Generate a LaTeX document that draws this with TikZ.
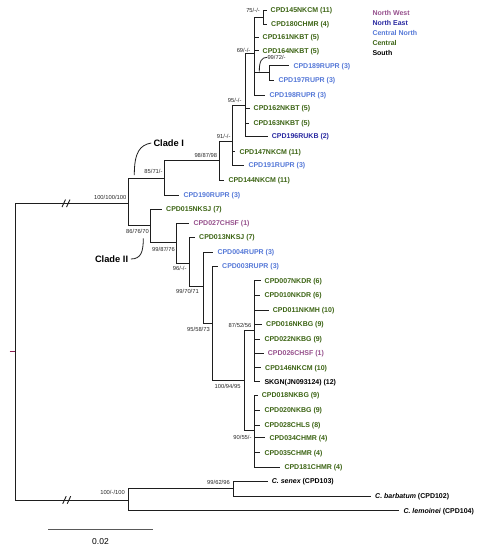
\documentclass[tikz,border=0pt]{standalone}
\usepackage{fontspec}
\setmainfont{Liberation Sans}
\definecolor{cNW}{RGB}{150,80,140}
\definecolor{cNE}{RGB}{40,40,160}
\definecolor{cCN}{RGB}{85,120,215}
\definecolor{cC}{RGB}{60,100,20}
\definecolor{cS}{RGB}{0,0,0}
\definecolor{lineC}{RGB}{30,30,30}
\definecolor{stubC}{RGB}{140,30,80}
\begin{document}
\begin{tikzpicture}[x=1pt,y=-1pt,
  tip/.style={anchor=west, inner xsep=4pt, inner ysep=0pt, font=\fontsize{7}{8}\selectfont\bfseries, text height=5pt, text depth=0pt},
  supval/.style={font=\fontsize{5.8}{6}\selectfont, inner sep=0pt, text height=4.2pt, text depth=0pt, text=black!85},
  branch/.style={line width=1pt, draw=lineC},
  leader/.style={line width=0.8pt, draw=lineC},
  cladelab/.style={font=\fontsize{9.3}{10}\selectfont\bfseries, inner sep=0pt, text height=6.7pt, text depth=0pt},
  legendlab/.style={anchor=west, inner sep=0pt, font=\fontsize{7}{8}\selectfont\bfseries, text height=5pt, text depth=0pt}]
\useasboundingbox (0,0) rectangle (478,550);

% internal nodes
\coordinate (root) at (15.3,351.6);
\coordinate (stub) at (9.5,351.6);
\coordinate (A) at (128.3,203.3);
\coordinate (B) at (128.3,500);
\coordinate (cI) at (164.3,178.3);
\coordinate (n98) at (219,160.7);
\coordinate (n91) at (232.3,141.7);
\coordinate (n95) at (245,105);
\coordinate (n69) at (254,53.3);
\coordinate (n75) at (263.3,17);
\coordinate (n99a) at (269.3,72.5);
\coordinate (cII) at (150.7,225.7);
\coordinate (n9987) at (176,242.7);
\coordinate (n96) at (189,263.3);
\coordinate (n9970) at (203.3,286.7);
\coordinate (n9558) at (212,323.3);
\coordinate (n10094) at (244.3,380.7);
\coordinate (n8752) at (254,330);
\coordinate (n9055) at (254,430);
\coordinate (n9962) at (233.3,488.5);

% tips
\node[tip,text=cC] (t145) at (266.5,10) {CPD145NKCM (11)};
\node[tip,text=cC] (t180) at (267,24) {CPD180CHMR (4)};
\node[tip,text=cC] (t161) at (258.5,37) {CPD161NKBT (5)};
\node[tip,text=cC] (t164) at (258.5,50.7) {CPD164NKBT (5)};
\node[tip,text=cCN] (t189) at (289.3,65.7) {CPD189RUPR (3)};
\node[tip,text=cCN] (t197) at (274.3,80) {CPD197RUPR (3)};
\node[tip,text=cCN] (t198) at (265.3,95) {CPD198RUPR (3)};
\node[tip,text=cC] (t162) at (249.5,108.3) {CPD162NKBT (5)};
\node[tip,text=cC] (t163) at (249.3,123.3) {CPD163NKBT (5)};
\node[tip,text=cNE] (t196) at (267.7,136) {CPD196RUKB (2)};
\node[tip,text=cC] (t147) at (235.3,151.7) {CPD147NKCM (11)};
\node[tip,text=cCN] (t191) at (244.3,165) {CPD191RUPR (3)};
\node[tip,text=cC] (t144) at (224.3,180) {CPD144NKCM (11)};
\node[tip,text=cCN] (t190) at (179.3,195) {CPD190RUPR (3)};
\node[tip,text=cC] (t015) at (162,209.3) {CPD015NKSJ (7)};
\node[tip,text=cNW] (t027) at (189.3,223) {CPD027CHSF (1)};
\node[tip,text=cC] (t013) at (195,237.3) {CPD013NKSJ (7)};
\node[tip,text=cCN] (t004) at (213.3,252.3) {CPD004RUPR (3)};
\node[tip,text=cCN] (t003) at (218,266) {CPD003RUPR (3)};
\node[tip,text=cC] (t007) at (260.5,280.7) {CPD007NKDR (6)};
\node[tip,text=cC] (t010) at (260.3,295) {CPD010NKDR (6)};
\node[tip,text=cC] (t011) at (268.7,310) {CPD011NKMH (10)};
\node[tip,text=cC] (t016) at (262,324) {CPD016NKBG (9)};
\node[tip,text=cC] (t022) at (260.3,339) {CPD022NKBG (9)};
\node[tip,text=cNW] (t026) at (263.7,353.3) {CPD026CHSF (1)};
\node[tip,text=cC] (t146) at (261,367.7) {CPD146NKCM (10)};
\node[tip,text=cS] (tskgn) at (260.3,381.7) {SKGN(JN093124) (12)};
\node[tip,text=cC] (t018) at (257.7,395) {CPD018NKBG (9)};
\node[tip,text=cC] (t020) at (260.3,410) {CPD020NKBG (9)};
\node[tip,text=cC] (t028) at (260.3,425) {CPD028CHLS (8)};
\node[tip,text=cC] (t034) at (265.3,437.7) {CPD034CHMR (4)};
\node[tip,text=cC] (t035) at (260.3,452.7) {CPD035CHMR (4)};
\node[tip,text=cC] (t181) at (280.3,467.3) {CPD181CHMR (4)};
\node[tip] (tsen) at (267.7,481) {{\itshape C. senex} (CPD103)};
\node[tip] (tbar) at (371,496) {{\itshape C. barbatum} (CPD102)};
\node[tip] (tlem) at (399.3,510.5) {{\itshape C. lemoinei} (CPD104)};

% branches
\draw[line width=1pt, draw=stubC] (stub) -- (root);
\draw[branch] (root) |- (A);
\draw[branch] (root) |- (B);
\draw[branch] (A) |- (cI);
\draw[branch] (A) |- (cII);
\draw[branch] (cI) |- (n98);
\draw[branch] (cI) |- (t190.west);
\draw[branch] (n98) |- (n91);
\draw[branch] (n98) |- (t144.west);
\draw[branch] (n91) |- (n95);
\draw[branch] (n91) |- (t147.west);
\draw[branch] (n91) |- (t191.west);
\draw[branch] (n95) |- (n69);
\draw[branch] (n95) |- (t162.west);
\draw[branch] (n95) |- (t163.west);
\draw[branch] (n95) |- (t196.west);
\draw[branch] (n69) |- (n75);
\draw[branch] (n69) |- (t161.west);
\draw[branch] (n69) |- (t164.west);
\draw[branch] (n69) |- (n99a);
\draw[branch] (n69) |- (t198.west);
\draw[branch] (n75) |- (t145.west);
\draw[branch] (n75) |- (t180.west);
\draw[branch] (n99a) |- (t189.west);
\draw[branch] (n99a) |- (t197.west);
\draw[branch] (cII) |- (t015.west);
\draw[branch] (cII) |- (n9987);
\draw[branch] (n9987) |- (t027.west);
\draw[branch] (n9987) |- (n96);
\draw[branch] (n96) |- (t013.west);
\draw[branch] (n96) |- (n9970);
\draw[branch] (n9970) |- (t004.west);
\draw[branch] (n9970) |- (n9558);
\draw[branch] (n9558) |- (t003.west);
\draw[branch] (n9558) |- (n10094);
\draw[branch] (n10094) |- (n8752);
\draw[branch] (n10094) |- (n9055);
\foreach \t in {t007,t010,t011,t016,t022,t026,t146,tskgn}
  \draw[branch] (n8752) |- (\t.west);
\foreach \t in {t018,t020,t028,t034,t035,t181}
  \draw[branch] (n9055) |- (\t.west);
\draw[branch] (B) |- (n9962);
\draw[branch] (B) |- (tlem.west);
\draw[branch] (n9962) |- (tsen.west);
\draw[branch] (n9962) |- (tbar.west);

% break marks
\coordinate (brk1) at (66,203.3);
\coordinate (brk2) at (66.7,500);
\foreach \b in {brk1,brk2} {
  \draw[line width=0.9pt, draw=lineC] ([shift={(-4,3.8)}]\b) -- ([shift={(-0.5,-3.8)}]\b);
  \draw[line width=0.9pt, draw=lineC] ([shift={(0.5,3.8)}]\b) -- ([shift={(4,-3.8)}]\b);
}

% support values
\node[supval,anchor=east] (s1) at (126.5,197) {100/100/100};
\node[supval,anchor=east] (s2) at (162.7,171.7) {85/71/-};
\node[supval,anchor=east] (s3) at (217.3,155) {98/87/98};
\node[supval,anchor=east] (s4) at (230.7,136) {91/-/-};
\node[supval,anchor=east] (s5) at (241.7,100) {95/-/-};
\node[supval,anchor=east] (s6) at (250.5,50.3) {69/-/-};
\node[supval,anchor=east] (s7) at (260,10.5) {75/-/-};
\node[supval,anchor=west] (s8) at (267.3,57.3) {99/72/-};
\node[supval,anchor=east] (s9) at (149,231.7) {86/76/70};
\node[supval,anchor=east] (s10) at (175,249) {99/87/76};
\node[supval,anchor=east] (s11) at (186.7,268.3) {96/-/-};
\node[supval,anchor=east] (s12) at (199,291.7) {99/70/71};
\node[supval,anchor=east] (s13) at (210,329.3) {95/58/73};
\node[supval,anchor=east] (s14) at (240.7,386) {100/94/95};
\node[supval,anchor=east] (s15) at (251.5,325) {87/52/56};
\node[supval,anchor=east] (s16) at (251.7,437.7) {90/55/-};
\node[supval,anchor=east] (s17) at (125,492.7) {100/-/100};
\node[supval,anchor=east] (s18) at (230,482.7) {99/62/96};

% leader for 99/72/-
\coordinate (l99a) at (259.3,71.5);
\draw[leader] (l99a) .. controls (259.3,61) and (261.5,57.3) .. (s8.west);

% clade labels
\node[cladelab,anchor=west] (cladeI) at (153.3,143) {Clade I};
\node[cladelab,anchor=east] (cladeII) at (128.3,259) {Clade II};
\coordinate (lI) at (134.3,175);
\coordinate (lII) at (143.3,238.3);
\draw[leader] (lI) .. controls (134.3,152) and (140,145) .. ([xshift=-2pt]cladeI.west);
\draw[leader] ([xshift=2.5pt]cladeII.east) .. controls (141,259) and (143.3,252) .. (lII);

% scale bar
\coordinate (sb1) at (48.3,529.3);
\coordinate (sb2) at (152.7,529.3);
\draw[line width=1.1pt, draw=black!65] (sb1) -- (sb2);
\node[font=\fontsize{8.5}{9}\selectfont, inner sep=0pt, text height=6pt, text depth=0pt] (sblab) at (100.5,541) {0.02};

% legend
\node[legendlab,text=cNW] (lg1) at (372.3,13.3) {North West};
\node[legendlab,text=cNE] (lg2) at (372.3,23.3) {North East};
\node[legendlab,text=cCN] (lg3) at (372.3,33.3) {Central North};
\node[legendlab,text=cC] (lg4) at (372.3,43.3) {Central};
\node[legendlab,text=cS] (lg5) at (372.3,53.3) {South};
\end{tikzpicture}
\end{document}
